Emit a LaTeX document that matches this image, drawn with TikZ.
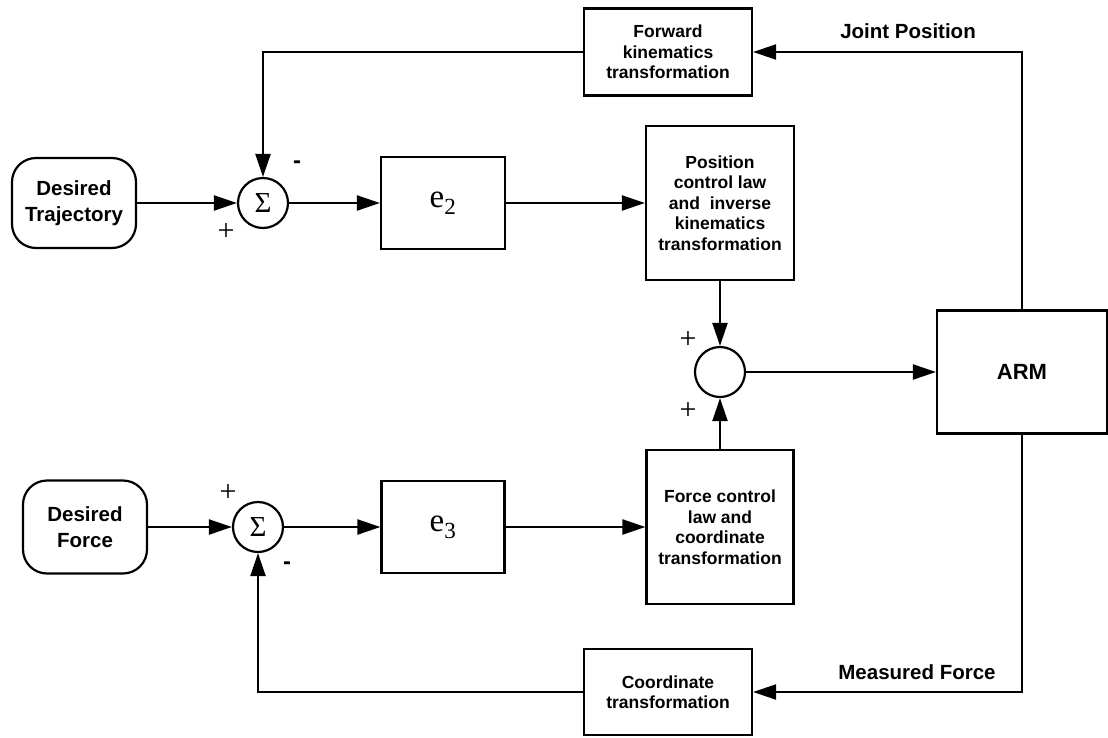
\documentclass[tikz,border=0pt]{standalone}
\usepackage{fontspec}
\setmainfont{Liberation Serif}
\setsansfont{Liberation Sans}
\usetikzlibrary{arrows.meta}

\tikzset{
    blk/.style={draw, line width=2.2pt, align=center, inner sep=0pt,
        font=\sffamily\bfseries\fontsize{17.5}{20.5}\selectfont},
    rblk/.style={blk, rounded corners=24pt,
        font=\sffamily\bfseries\fontsize{20.5}{26}\selectfont},
    sumnode/.style={draw, circle, line width=2.2pt, minimum size=50pt, inner sep=0pt,
        font=\fontsize{29}{29}\selectfont},
    sig/.style={line width=2.2pt, -{Triangle[length=23pt,width=15pt]}},
    sgn/.style={inner sep=0pt, font=\fontsize{30}{30}\selectfont},
    lbl/.style={inner sep=0pt, font=\sffamily\bfseries\fontsize{20.5}{24}\selectfont}
}

\begin{document}
\begin{tikzpicture}[x=1pt,y=-1pt]
    \useasboundingbox (0,0) rectangle (1108,737);

    % upper loop
    \node[rblk, minimum width=124pt, minimum height=90pt] (traj) at (74,203) {Desired\\Trajectory};
    \node[sumnode] (s1) at (263,203) {Σ};
    \node[blk, minimum width=124pt, minimum height=92pt, font=\fontsize{33}{33}\selectfont] (e2) at (443,203) {e\textsubscript{2}};
    \node[blk, minimum width=148pt, minimum height=154pt] (pos) at (720,203) {Position\\control law\\and~ inverse\\kinematics\\transformation};
    \node[blk, minimum width=168pt, minimum height=87pt] (fwd) at (668,52) {Forward\\kinematics\\transformation};

    \node[sumnode] (s2) at (720,372) {};
    \node[blk, minimum width=170pt, minimum height=123pt, font=\sffamily\bfseries\fontsize{22}{22}\selectfont] (arm) at (1022,372) {ARM};

    % lower loop
    \node[rblk, minimum width=124pt, minimum height=93pt] (desF) at (85,527) {Desired\\Force};
    \node[sumnode] (s3) at (258,527) {Σ};
    \node[blk, minimum width=123pt, minimum height=92pt, font=\fontsize{33}{33}\selectfont] (e3) at (443,527) {e\textsubscript{3}};
    \node[blk, minimum width=147pt, minimum height=154pt] (force) at (720,527) {Force control\\law and\\coordinate\\transformation};
    \node[blk, minimum width=168pt, minimum height=86pt] (coord) at (668,692) {Coordinate\\transformation};

    \node[lbl] (jp) at (908,31) {Joint Position};
    \node[lbl] (mf) at (917,672) {Measured Force};

    \node[sgn] (m1) at (297,165) {\sffamily\bfseries\fontsize{24}{24}\selectfont -};
    \node[sgn] (p1) at (226,232) {+};
    \node[sgn] (p2) at (688,340) {+};
    \node[sgn] (p3) at (688,411) {+};
    \node[sgn] (p4) at (228,493) {+};
    \node[sgn] (m2) at (287,566) {\sffamily\bfseries\fontsize{24}{24}\selectfont -};

    \draw[sig] (traj) -- (s1);
    \draw[sig] (s1) -- (e2);
    \draw[sig] (e2) -- (pos);
    \draw[sig] (pos) -- (s2);
    \draw[sig] (force) -- (s2);
    \draw[sig] (s2) -- (arm);
    \draw[sig] (arm.north) |- (fwd.east);
    \draw[sig] (fwd.west) -| (s1.north);

    \draw[sig] (desF) -- (s3);
    \draw[sig] (s3) -- (e3);
    \draw[sig] (e3) -- (force);
    \draw[sig] (arm.south) |- (coord.east);
    \draw[sig] (coord.west) -| (s3.south);
\end{tikzpicture}
\end{document}
